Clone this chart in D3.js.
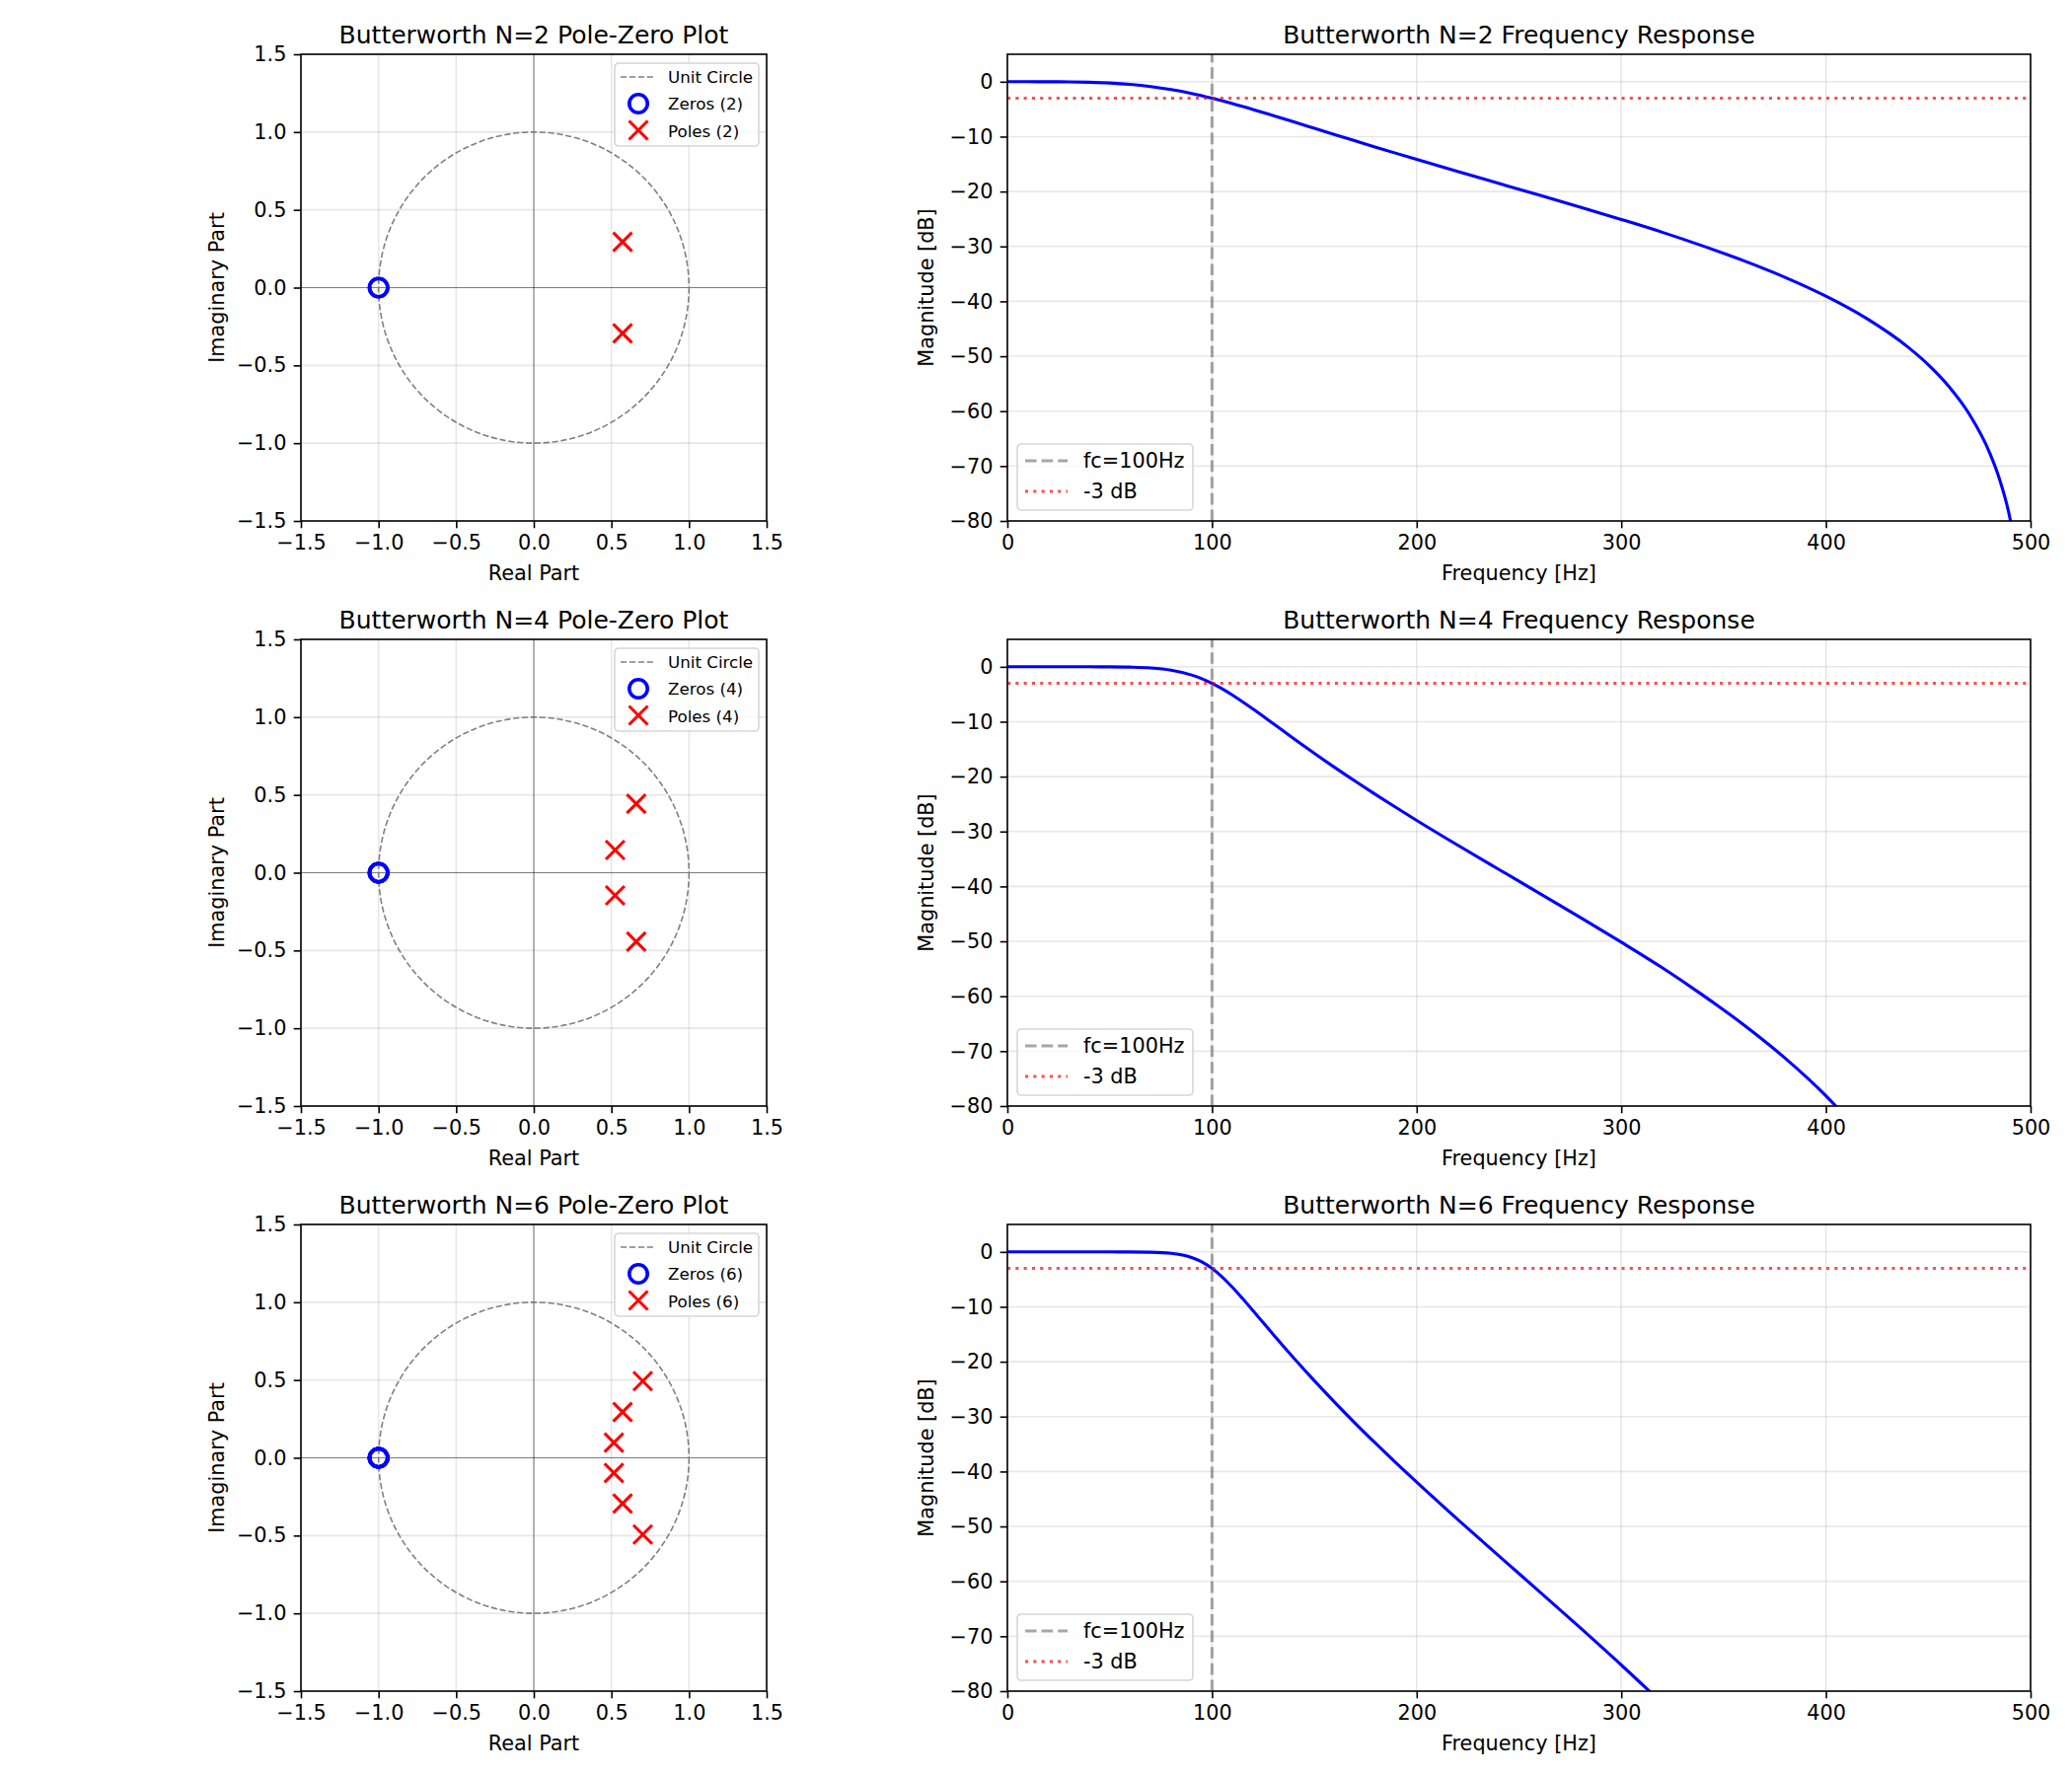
<!DOCTYPE html>
<html lang="en">
<head>
<meta charset="UTF-8">
<title>Butterworth N=2/4/6</title>
<script src="https://d3js.org/d3.v7.min.js"></script>
<style>
  body { margin: 0; background: #fff; }
  svg { font-family: "DejaVu Sans", sans-serif; }
</style>
</head>
<body>
<div id="chart"></div>
<script>
// filter orders, one row each
const orders = [2, 4, 6];

// poles (real, imag)
const polesN2 = [[0.572, 0.294], [0.572, -0.294]];
const polesN4 = [[0.660, 0.443], [0.524, 0.146], [0.524, -0.146], [0.660, -0.443]];
const polesN6 = [[0.702, 0.493], [0.572, 0.294], [0.516, 0.097], [0.516, -0.097], [0.572, -0.294], [0.702, -0.493]];

// zeros all sit on -1
const zerosN2 = [[-1, 0], [-1, 0]];
const zerosN4 = [[-1, 0], [-1, 0], [-1, 0], [-1, 0]];
const zerosN6 = [[-1, 0], [-1, 0], [-1, 0], [-1, 0], [-1, 0], [-1, 0]];

// magnitude responses (Hz, dB)
const freqN2 = [0, 10, 20, 30, 40, 50, 60, 70, 80, 90, 100, 110, 120, 130, 140, 150, 160, 170, 180, 190, 200,
  220, 240, 260, 280, 300, 320, 340, 360, 380, 400, 420, 440, 450, 460, 470, 480, 485, 490, 495];
const magN2 = [0, 0, -0.01, -0.03, -0.10, -0.24, -0.49, -0.88, -1.43, -2.14, -3.01, -3.99, -5.06, -6.18, -7.32, -8.48, -9.64, -10.78, -11.92, -13.04, -14.15,
  -16.34, -18.50, -20.66, -22.85, -25.09, -27.41, -29.93, -32.63, -35.63, -39.06, -43.15, -48.31, -51.54, -55.47, -60.51, -67.58, -72.59, -79.64, -91.7];

const freqN4 = [0, 10, 20, 30, 40, 50, 60, 70, 80, 90, 95, 100, 105, 110, 120, 130, 140, 150, 160, 170, 180, 190, 200,
  220, 240, 260, 280, 300, 320, 340, 360, 380, 400, 420];
const magN4 = [0, 0, 0, 0, 0, -0.01, -0.06, -0.21, -0.61, -1.49, -2.16, -3.01, -4.01, -5.15, -7.68, -10.37, -13.09, -15.75, -18.34, -20.84, -23.28, -25.65, -27.97,
  -32.47, -36.87, -41.24, -45.66, -50.16, -54.81, -59.85, -65.25, -71.25, -78.12, -86.3];

const freqN6 = [0, 10, 20, 30, 40, 50, 60, 70, 80, 85, 90, 95, 100, 105, 110, 115, 120, 125, 130, 140, 150, 160, 170, 180, 190, 200,
  220, 240, 260, 280, 300, 320];
const magN6 = [0, 0, 0, 0, 0, 0, -0.01, -0.05, -0.25, -0.52, -1.01, -1.81, -3.01, -4.58, -6.46, -8.53, -10.69, -12.88, -15.07, -19.35, -23.47, -27.41, -31.22, -34.89, -38.46, -41.94,
  -48.70, -55.31, -61.86, -68.49, -75.24, -82.21];

const cutoffHz = 100;
const halfPowerDb = -3;

// tick labels
const pzTicks = [-1.5, -1.0, -0.5, 0.0, 0.5, 1.0, 1.5];
const freqTicks = [0, 100, 200, 300, 400, 500];
const dbTicks = [0, -10, -20, -30, -40, -50, -60, -70, -80];

const poles = [polesN2, polesN4, polesN6];
const zeros = [zerosN2, zerosN4, zerosN6];
const freqs = [freqN2, freqN4, freqN6];
const mags = [magN2, magN4, magN6];

const width = 2100, height = 1800;
const rowTop = [55, 648, 1241];
const axH = 473;
const pzBox = { left: 305, width: 472 };
const frBox = { left: 1021, width: 1037 };
const tickFont = "20.8px";

const svg = d3.select("#chart").append("svg")
    .attr("width", width)
    .attr("height", height);

function styleAxis(g) {
    g.select(".domain").remove();
    g.attr("font-family", null).attr("font-size", null);
    g.selectAll(".tick line").attr("stroke", "#000").attr("stroke-width", 1.6);
    g.selectAll(".tick text").attr("fill", "#000").style("font-size", tickFont);
}

function frame(g, x0, y0, w, h) {
    g.append("rect")
        .attr("x", x0).attr("y", y0).attr("width", w).attr("height", h)
        .attr("fill", "none").attr("stroke", "#000").attr("stroke-width", 1.6);
}

function grid(g, x, y, xt, yt) {
    const [x0, x1] = x.range();
    const [y0, y1] = y.range();
    g.selectAll(null).data(xt).enter().append("line")
        .attr("x1", d => x(d)).attr("x2", d => x(d))
        .attr("y1", y0).attr("y2", y1)
        .attr("stroke", "#b0b0b0").attr("stroke-opacity", 0.3).attr("stroke-width", 1.6);
    g.selectAll(null).data(yt).enter().append("line")
        .attr("y1", d => y(d)).attr("y2", d => y(d))
        .attr("x1", x0).attr("x2", x1)
        .attr("stroke", "#b0b0b0").attr("stroke-opacity", 0.3).attr("stroke-width", 1.6);
}

const crossPath = "M-9.5,-9.5L9.5,9.5M-9.5,9.5L9.5,-9.5";

function drawPoleZero(i) {
    const n = orders[i];
    const top = rowTop[i];
    const g = svg.append("g");
    const x = d3.scaleLinear().domain([-1.5, 1.5]).range([pzBox.left, pzBox.left + pzBox.width]);
    const y = d3.scaleLinear().domain([-1.5, 1.5]).range([top + axH, top]);

    grid(g, x, y, pzTicks, pzTicks);

    // real / imaginary axes
    g.append("line").attr("x1", x(-1.5)).attr("x2", x(1.5)).attr("y1", y(0)).attr("y2", y(0))
        .attr("stroke", "#000").attr("stroke-opacity", 0.45).attr("stroke-width", 1.1);
    g.append("line").attr("x1", x(0)).attr("x2", x(0)).attr("y1", y(-1.5)).attr("y2", y(1.5))
        .attr("stroke", "#000").attr("stroke-opacity", 0.45).attr("stroke-width", 1.1);

    // unit circle
    g.append("ellipse")
        .attr("cx", x(0)).attr("cy", y(0))
        .attr("rx", x(1) - x(0)).attr("ry", y(0) - y(1))
        .attr("fill", "none").attr("stroke", "#808080").attr("stroke-width", 1.6)
        .attr("stroke-dasharray", "6.2,2.7");

    g.selectAll(null).data(zeros[i]).enter().append("circle")
        .attr("cx", d => x(d[0])).attr("cy", d => y(d[1])).attr("r", 9.2)
        .attr("fill", "none").attr("stroke", "blue").attr("stroke-width", 3.6);

    g.selectAll(null).data(poles[i]).enter().append("path")
        .attr("d", crossPath)
        .attr("transform", d => `translate(${x(d[0])},${y(d[1])})`)
        .attr("fill", "none").attr("stroke", "red").attr("stroke-width", 3.1);

    g.append("g").attr("transform", `translate(0,${top + axH})`)
        .call(d3.axisBottom(x).tickValues(pzTicks).tickFormat(d3.format(".1f")).tickSize(7.3).tickPadding(7.3))
        .call(styleAxis);
    g.append("g").attr("transform", `translate(${pzBox.left},0)`)
        .call(d3.axisLeft(y).tickValues(pzTicks).tickFormat(d3.format(".1f")).tickSize(7.3).tickPadding(7.3))
        .call(styleAxis);

    frame(g, pzBox.left, top, pzBox.width, axH);

    g.append("text")
        .attr("x", pzBox.left + pzBox.width / 2).attr("y", top - 11)
        .attr("text-anchor", "middle").style("font-size", "25px")
        .text(`Butterworth N=${n} Pole-Zero Plot`);
    g.append("text")
        .attr("x", pzBox.left + pzBox.width / 2).attr("y", top + axH + 60)
        .attr("text-anchor", "middle").style("font-size", tickFont)
        .text("Real Part");
    g.append("text")
        .attr("transform", `translate(${pzBox.left - 78},${top + axH / 2}) rotate(-90)`)
        .attr("text-anchor", "middle").style("font-size", tickFont)
        .text("Imaginary Part");

    // legend
    const lx = pzBox.left + pzBox.width - 154, ly = top + 9;
    const lg = g.append("g").attr("transform", `translate(${lx},${ly})`);
    lg.append("rect").attr("width", 146).attr("height", 84).attr("rx", 4)
        .attr("fill", "#fff").attr("fill-opacity", 0.8)
        .attr("stroke", "#d6d6d6").attr("stroke-width", 1.6);
    lg.append("line").attr("x1", 6).attr("x2", 40).attr("y1", 14).attr("y2", 14)
        .attr("stroke", "#808080").attr("stroke-width", 1.6).attr("stroke-dasharray", "6.2,2.7");
    lg.append("circle").attr("cx", 24).attr("cy", 41).attr("r", 9.2)
        .attr("fill", "none").attr("stroke", "blue").attr("stroke-width", 3.6);
    lg.append("path").attr("d", crossPath).attr("transform", "translate(24,68)")
        .attr("fill", "none").attr("stroke", "red").attr("stroke-width", 3.1);
    const labels = ["Unit Circle", `Zeros (${n})`, `Poles (${n})`];
    lg.selectAll(null).data(labels).enter().append("text")
        .attr("x", 54).attr("y", (d, k) => 14 + k * 27.5).attr("dy", "0.35em")
        .style("font-size", "16.7px")
        .text(d => d);
}

function drawFreq(i) {
    const n = orders[i];
    const top = rowTop[i];
    const g = svg.append("g");
    const x = d3.scaleLinear().domain([0, 500]).range([frBox.left, frBox.left + frBox.width]);
    const y = d3.scaleLinear().domain([-80, 5]).range([top + axH, top]);

    grid(g, x, y, freqTicks, dbTicks);

    const clipId = `clip-${n}`;
    g.append("clipPath").attr("id", clipId).append("rect")
        .attr("x", frBox.left).attr("y", top).attr("width", frBox.width).attr("height", axH);

    const data = freqs[i].map((f, k) => ({ f: f, db: mags[i][k] }));
    const line = d3.line().x(d => x(d.f)).y(d => y(d.db)).curve(d3.curveMonotoneX);
    g.append("path").datum(data)
        .attr("clip-path", `url(#${clipId})`)
        .attr("d", line)
        .attr("fill", "none").attr("stroke", "blue").attr("stroke-width", 3.1);

    g.append("line").attr("x1", x(cutoffHz)).attr("x2", x(cutoffHz)).attr("y1", y(-80)).attr("y2", y(5))
        .attr("stroke", "#808080").attr("stroke-opacity", 0.7).attr("stroke-width", 3.1)
        .attr("stroke-dasharray", "11.6,5");
    g.append("line").attr("x1", x(0)).attr("x2", x(500)).attr("y1", y(halfPowerDb)).attr("y2", y(halfPowerDb))
        .attr("stroke", "red").attr("stroke-opacity", 0.7).attr("stroke-width", 3.1)
        .attr("stroke-dasharray", "3.1,5.2");

    g.append("g").attr("transform", `translate(0,${top + axH})`)
        .call(d3.axisBottom(x).tickValues(freqTicks).tickFormat(d3.format("d")).tickSize(7.3).tickPadding(7.3))
        .call(styleAxis);
    g.append("g").attr("transform", `translate(${frBox.left},0)`)
        .call(d3.axisLeft(y).tickValues(dbTicks).tickFormat(d3.format("d")).tickSize(7.3).tickPadding(7.3))
        .call(styleAxis);

    frame(g, frBox.left, top, frBox.width, axH);

    g.append("text")
        .attr("x", frBox.left + frBox.width / 2).attr("y", top - 11)
        .attr("text-anchor", "middle").style("font-size", "25px")
        .text(`Butterworth N=${n} Frequency Response`);
    g.append("text")
        .attr("x", frBox.left + frBox.width / 2).attr("y", top + axH + 60)
        .attr("text-anchor", "middle").style("font-size", tickFont)
        .text("Frequency [Hz]");
    g.append("text")
        .attr("transform", `translate(${frBox.left - 75},${top + axH / 2}) rotate(-90)`)
        .attr("text-anchor", "middle").style("font-size", tickFont)
        .text("Magnitude [dB]");

    // legend
    const lx = frBox.left + 10, ly = top + axH - 78;
    const lg = g.append("g").attr("transform", `translate(${lx},${ly})`);
    lg.append("rect").attr("width", 178).attr("height", 67).attr("rx", 4)
        .attr("fill", "#fff").attr("fill-opacity", 0.8)
        .attr("stroke", "#d6d6d6").attr("stroke-width", 1.6);
    lg.append("line").attr("x1", 8).attr("x2", 51).attr("y1", 17).attr("y2", 17)
        .attr("stroke", "#808080").attr("stroke-opacity", 0.7).attr("stroke-width", 3.1)
        .attr("stroke-dasharray", "11.6,5");
    lg.append("line").attr("x1", 8).attr("x2", 51).attr("y1", 48).attr("y2", 48)
        .attr("stroke", "red").attr("stroke-opacity", 0.7).attr("stroke-width", 3.1)
        .attr("stroke-dasharray", "3.1,5.2");
    lg.selectAll(null).data([`fc=${cutoffHz}Hz`, `${halfPowerDb} dB`]).enter().append("text")
        .attr("x", 67).attr("y", (d, k) => 17 + k * 31).attr("dy", "0.35em")
        .style("font-size", tickFont)
        .text(d => d);
}

orders.forEach((n, i) => {
    drawPoleZero(i);
    drawFreq(i);
});
</script>
</body>
</html>
